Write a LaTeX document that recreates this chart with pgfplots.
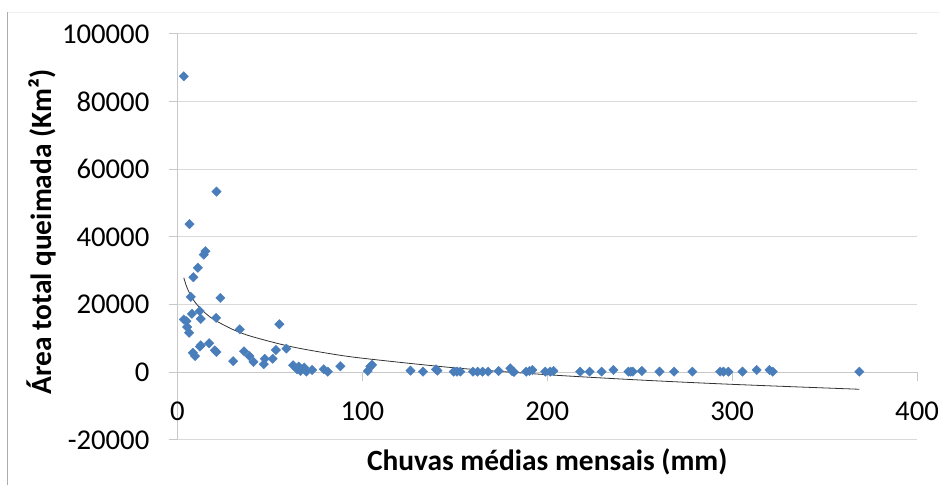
\documentclass[border=0pt]{standalone}
\usepackage{fontspec}
\setmainfont{Carlito}
\usepackage{pgfplots}
\pgfplotsset{compat=1.18}
\definecolor{pts}{HTML}{4A7EBB}
\definecolor{gridc}{HTML}{D9D9D9}
\definecolor{axc}{HTML}{C8C8C8}
\begin{document}
\begin{tikzpicture}[x=1bp,y=1bp]
\path[use as bounding box] (0,0) rectangle (940,485);
\draw[gray!65, line width=1bp] (7.5,0) -- (7.5,472.5);
\draw[gray!12, line width=1bp] (7.5,472.5) -- (940,472.5);
\begin{axis}[
  at={(177.5bp,45bp)}, anchor=south west,
  scale only axis, width=739.5bp, height=406bp,
  xmin=0, xmax=400, ymin=-20000, ymax=100000,
  axis y line*=left, axis x line*=middle,
  hide obscured x ticks=false,
  xtick={0,100,200,300,400}, xticklabels={0,100,200,300,400},
  ytick={-20000,0,20000,40000,60000,80000,100000},
  yticklabels={-20000,0,20000,40000,60000,80000,100000},
  ymajorgrids, grid style={gridc, line width=1bp},
  axis line style={axc, line width=1bp},
  tick align=outside, major tick length=9bp,
  tick style={axc, line width=1bp},
  ticklabel style={font=\fontsize{28.8}{30}\selectfont, inner sep=0pt},
  xticklabel style={anchor=center, yshift=-30bp},
  yticklabel style={anchor=east, xshift=-19bp},
  scaled y ticks=false, scaled x ticks=false,
  xlabel={Chuvas médias mensais (mm)},
  ylabel={Área total queimada (Km²)},
  label style={font=\bfseries\fontsize{29.5}{31}\selectfont},
  xlabel style={at={(axis description cs:0.5,-0.0542)}, anchor=center},
  ylabel style={at={(axis description cs:-0.1846,0.512)}, anchor=center},
  clip=false,
]
\addplot[only marks, mark=square*, mark size=3.3bp, mark options={rotate=45, fill=pts, draw=pts}] coordinates {
(3.4,87500) (21.1,53400) (6.5,43800) (15.1,35800) (14.2,34800) (11.0,30900)
(8.6,28100) (7.2,22300) (23.2,22000) (12.0,18100) (7.8,17300) (3.4,15600)
(4.9,15100) (12.6,15800) (20.9,16100) (5.2,13400) (6.3,11700) (33.7,12700)
(55.1,14200) (8.3,5800) (9.5,4800) (12.1,7600) (12.6,8000) (17.1,8600)
(20.2,6500) (21.1,6000) (30.1,3300) (36.0,6200) (38.9,4800) (41.1,3100)
(47.2,4000) (46.7,2400) (51.5,4000) (53.2,6600) (58.9,7000) (62.5,2100)
(64.7,900) (65.6,1700) (66.5,400) (68.6,1400) (69.7,200) (72.8,700)
(79.1,900) (81.3,200) (88.1,1800) (102.9,400) (104.3,1700) (105.2,2200)
(126,500) (132.8,200) (139.8,900) (140.6,500) (149.4,200) (151.2,200)
(153,200) (159.8,200) (162.3,200) (165,200) (168,200) (173.7,400)
(180,1200) (181,400) (182,100) (188.6,200) (190.4,400) (192,700)
(198.9,200) (201.6,200) (203.4,400) (217.8,200) (222.9,200) (229.4,200)
(235.8,700) (243.9,200) (245.2,200) (246.3,200) (251.2,400) (260.7,200)
(268.6,200) (278.5,200) (293.5,200) (295.3,200) (298,200) (305.6,200)
(313.3,700) (320.2,700) (322,200) (368.8,200)
};
\addplot[black!80, line width=0.8bp, smooth, no marks] coordinates {
(3.4,27951) (5,25240) (7,22873) (10,20365) (15,17514) (20,15491)
(30,12640) (40,10617) (60,7766) (80,5743) (100,4173) (150,1322)
(200,-701) (250,-2270) (300,-3552) (368.8,-5004)
};
\end{axis}
\end{tikzpicture}
\end{document}
